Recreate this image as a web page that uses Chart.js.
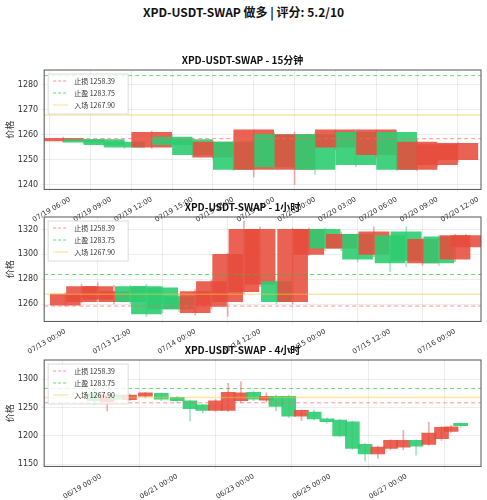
<!DOCTYPE html>
<html>
<head>
<meta charset="utf-8">
<script src="https://cdn.jsdelivr.net/npm/chart.js@4.4.1/dist/chart.umd.min.js"></script>
<style>
body { margin: 0; background: #fff; width: 487px; height: 500px; overflow: hidden; font-family: "Noto Sans CJK SC", "DejaVu Sans", sans-serif; }
#title { position: absolute; top: 3px; left: 0; width: 487px; text-align: center; font-weight: bold; font-size: 12px; color: #111; }
.box { position: absolute; left: 0; width: 487px; }
</style>
</head>
<body>
<div id="title">XPD-USDT-SWAP 做多 | 评分: 5.2/10</div>
<div class="box" style="top:52px;height:175px"><canvas id="c15m"></canvas></div>
<div class="box" style="top:199px;height:160px"><canvas id="c1h"></canvas></div>
<div class="box" style="top:342px;height:162px"><canvas id="c4h"></canvas></div>
<script>
const stopLoss = 1258.39;
const takeProfit = 1283.75;
const entry = 1267.90;

// 15m panel, hours from 07/19 00:00
const m15Time = [5.5, 7, 8.5, 10, 12, 13.5, 15, 16.5, 18, 19.5, 21, 22.5, 24, 25.5, 27, 28.5, 30, 31.5, 33, 34.5];
const m15Open = [1257.5, 1258, 1258, 1257, 1255, 1259, 1258, 1251, 1257, 1246, 1260, 1246, 1260, 1255, 1261, 1252, 1261, 1246, 1248, 1250];
const m15Close = [1258.5, 1257, 1256, 1255, 1261, 1256, 1252, 1257, 1246, 1262, 1247, 1260, 1246, 1262, 1248, 1262, 1246, 1257, 1256, 1256.5];
const m15High = [1259, 1258.5, 1258.5, 1257.5, 1261.5, 1260, 1258.5, 1257.5, 1257.5, 1262, 1261, 1261, 1261, 1262, 1262, 1262, 1261.5, 1258, 1256.5, 1257];
const m15Low = [1257, 1256.5, 1255.5, 1254.5, 1254.5, 1255.5, 1251, 1250.5, 1245.5, 1243, 1246, 1240, 1244, 1254, 1247, 1251, 1245.5, 1245.5, 1247.5, 1249];

// 1h panel, hours from 07/13 00:00
const h1Time = [0, 3, 6, 9, 12, 15, 18, 21, 24, 27, 30, 33, 36, 39, 42, 45, 48, 51, 54, 57, 60, 63, 66, 69, 72, 74];
const h1Open = [1259, 1262, 1264, 1262, 1274, 1274, 1273, 1266, 1253, 1258, 1262, 1270, 1276, 1278, 1262, 1300, 1320, 1305, 1316, 1300, 1315, 1318, 1293, 1314, 1296, 1306];
const h1Close = [1268, 1274, 1274, 1270, 1262, 1252, 1256, 1256, 1270, 1278, 1300, 1320, 1320, 1262, 1320, 1320, 1305, 1316, 1296, 1318, 1293, 1295, 1312, 1293, 1315, 1315];
const h1High = [1269, 1276, 1277, 1275, 1275, 1276, 1274, 1268, 1272, 1279, 1301, 1327, 1322, 1279, 1321, 1321, 1321, 1318, 1317, 1322, 1318, 1322, 1313, 1315, 1316, 1316];
const h1Low = [1258, 1261, 1262, 1260, 1260, 1250, 1253, 1254, 1251, 1256, 1250, 1268, 1274, 1260, 1260, 1299, 1303, 1303, 1294, 1298, 1286, 1290, 1291, 1291, 1294, 1305];

// 4h panel, hours from 06/19 00:00
const h4Time = [-4, 4, 10, 18, 28, 38, 48, 56, 64, 72, 80, 88, 96, 104, 110, 118, 126, 134, 142, 150, 158, 166, 174, 182, 190, 198, 206, 214, 220, 226];
const h4Open = [1275, 1260, 1272, 1264, 1270, 1275, 1268, 1262, 1255, 1245, 1245, 1262, 1277, 1263, 1270, 1270, 1235, 1242, 1230, 1228, 1225, 1185, 1168, 1178, 1180, 1192, 1185, 1195, 1208, 1222];
const h4Close = [1262, 1272, 1265, 1272, 1276, 1265, 1262, 1248, 1245, 1262, 1277, 1276, 1265, 1270, 1252, 1235, 1245, 1230, 1225, 1200, 1178, 1168, 1180, 1192, 1192, 1182, 1205, 1215, 1216, 1218];
const h4High = [1282, 1276, 1274, 1274, 1277, 1276, 1270, 1263, 1256, 1264, 1293, 1296, 1279, 1276, 1272, 1272, 1246, 1245, 1232, 1229, 1226, 1187, 1182, 1193, 1210, 1193, 1224, 1217, 1218, 1223];
const h4Low = [1255, 1244, 1262, 1262, 1268, 1262, 1258, 1226, 1240, 1243, 1243, 1258, 1262, 1260, 1244, 1232, 1227, 1228, 1222, 1198, 1176, 1155, 1160, 1175, 1175, 1166, 1183, 1192, 1206, 1215];

const RED = "rgba(231,76,60,0.88)";
const GREEN = "rgba(46,204,113,0.9)";
const WICK_RED = "rgba(231,76,60,0.45)";
const WICK_GREEN = "rgba(46,204,113,0.45)";

const frame = {
    id: "frame",
    afterDraw(chart) {
        const a = chart.chartArea, c = chart.ctx;
        c.save();
        c.strokeStyle = "#555";
        c.lineWidth = 1;
        c.strokeRect(a.left, a.top, a.right - a.left, a.bottom - a.top);
        // legend box
        const x = a.left + 4, y = a.top + 4;
        c.fillStyle = "rgba(255,255,255,0.8)";
        c.strokeStyle = "#ddd";
        c.fillRect(x, y, 80, 40);
        c.strokeRect(x, y, 80, 40);
        const items = [
            ["止损 " + stopLoss.toFixed(2), "rgba(255,100,100,0.7)", [3, 2]],
            ["止盈 " + takeProfit.toFixed(2), "rgba(40,200,60,0.7)", [3, 2]],
            ["入场 " + entry.toFixed(2), "rgba(245,200,60,0.6)", []]
        ];
        c.font = "7px 'Noto Sans CJK SC'";
        c.textBaseline = "middle";
        items.forEach((it, i) => {
            const yy = y + 7 + i * 12;
            c.strokeStyle = it[1];
            c.setLineDash(it[2]);
            c.beginPath();
            c.moveTo(x + 5, yy);
            c.lineTo(x + 20, yy);
            c.stroke();
            c.setLineDash([]);
            c.fillStyle = "#333";
            c.fillText(it[0], x + 26, yy);
        });
        c.restore();
    }
};

function pad(n) {
    return String(n).padStart(2, "0");
}

function stepTicks(min, max, step) {
    const out = [];
    for (let v = Math.ceil(min / step) * step; v <= max; v += step) {
        out.push({ value: v });
    }
    return out;
}

function renderPanel(id, title, time, open, close, high, low, xMin, xMax, step, base, yMin, yMax, yStep, thick) {
    const colors = time.map((t, i) => close[i] >= open[i] ? RED : GREEN);
    const wickColors = time.map((t, i) => close[i] >= open[i] ? WICK_RED : WICK_GREEN);
    const hline = (v) => [{ x: xMin, y: v }, { x: xMax, y: v }];
    new Chart(document.getElementById(id), {
        type: "bar",
        data: {
            datasets: [
                {
                    type: "line",
                    data: hline(stopLoss),
                    borderColor: "rgba(255,100,100,0.7)",
                    borderDash: [4, 3],
                    borderWidth: 1,
                    pointRadius: 0
                },
                {
                    type: "line",
                    data: hline(takeProfit),
                    borderColor: "rgba(40,200,60,0.7)",
                    borderDash: [4, 3],
                    borderWidth: 1,
                    pointRadius: 0
                },
                {
                    type: "line",
                    data: hline(entry),
                    borderColor: "rgba(245,200,60,0.45)",
                    borderWidth: 1.5,
                    pointRadius: 0
                },
                {
                    data: time.map((t, i) => ({ x: t, y: [low[i], high[i]] })),
                    backgroundColor: wickColors,
                    barThickness: 1,
                    grouped: false
                },
                {
                    data: time.map((t, i) => ({ x: t, y: [open[i], close[i]] })),
                    backgroundColor: colors,
                    barThickness: thick,
                    grouped: false
                }
            ]
        },
        options: {
            responsive: true,
            maintainAspectRatio: false,
            animation: false,
            layout: { padding: { left: 4, right: 6, top: 0, bottom: 0 } },
            plugins: {
                legend: { display: false },
                tooltip: { enabled: false },
                title: {
                    display: true,
                    text: title,
                    color: "#111",
                    font: { family: "Noto Sans CJK SC", size: 10, weight: "bold" },
                    padding: { top: 2, bottom: 4 }
                }
            },
            scales: {
                x: {
                    type: "linear",
                    min: xMin,
                    max: xMax,
                    offset: false,
                    grid: { color: "rgba(0,0,0,0.07)", tickLength: 3 },
                    afterBuildTicks(axis) {
                        axis.ticks = stepTicks(xMin, xMax, step);
                    },
                    ticks: {
                        minRotation: 30,
                        maxRotation: 30,
                        autoSkip: false,
                        color: "#333",
                        font: { family: "DejaVu Sans", size: 7 },
                        callback: (v) => {
                            const d = new Date(base.getTime() + v * 3600000);
                            return pad(d.getMonth() + 1) + "/" + pad(d.getDate()) + " " + pad(d.getHours()) + ":" + pad(d.getMinutes());
                        }
                    }
                },
                y: {
                    min: yMin,
                    max: yMax,
                    grid: { color: "rgba(0,0,0,0.07)", tickLength: 3 },
                    afterBuildTicks(axis) {
                        axis.ticks = stepTicks(yMin, yMax, yStep);
                    },
                    ticks: {
                        autoSkip: false,
                        color: "#333",
                        font: { family: "DejaVu Sans", size: 8 },
                        callback: (v) => String(v)
                    },
                    title: { display: true, text: "价格", color: "#333", font: { family: "Noto Sans CJK SC", size: 9 }, padding: 0 }
                }
            }
        },
        plugins: [frame]
    });
}

renderPanel("c15m", "XPD-USDT-SWAP - 15分钟", m15Time, m15Open, m15Close, m15High, m15Low,
    4.1, 36.2, 3, new Date(2024, 6, 19, 0, 0), 1238, 1286, 10, 40);
renderPanel("c1h", "XPD-USDT-SWAP - 1小时", h1Time, h1Open, h1Close, h1High, h1Low,
    -3.9, 76.8, 12, new Date(2024, 6, 13, 0, 0), 1246, 1330, 20, 30);
renderPanel("c4h", "XPD-USDT-SWAP - 4小时", h4Time, h4Open, h4Close, h4High, h4Low,
    -35.6, 238.8, 48, new Date(2024, 5, 19, 0, 0), 1146, 1334, 50, 14);
</script>
</body>
</html>
